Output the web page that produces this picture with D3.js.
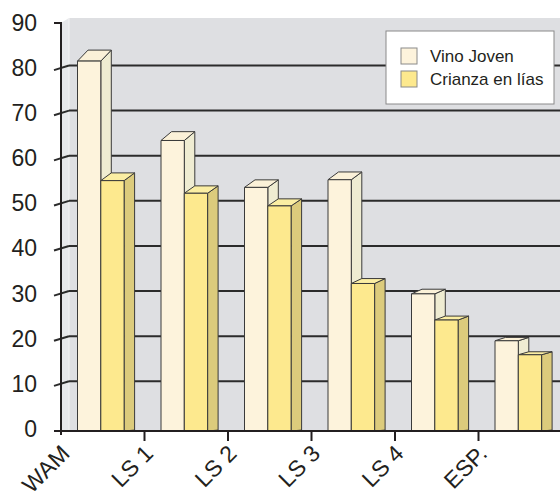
<!DOCTYPE html>
<html>
<head>
<meta charset="utf-8">
<script src="https://cdn.jsdelivr.net/npm/d3@7"></script>
<style>
body { margin: 0; background: #fff; }
svg { display: block; }
text { font-family: "Liberation Sans", Arial, sans-serif; fill: #231f20; }
</style>
</head>
<body>
<script>
var categories = ["WAM", "LS 1", "LS 2", "LS 3", "LS 4", "ESP."];
var seriesNames = ["Vino Joven", "Crianza en lías"];
var vinoJoven = [82, 64.4, 54, 55.7, 30.4, 20];
var crianza = [55.5, 52.7, 49.9, 32.7, 24.6, 16.9];
var yTicks = [0, 10, 20, 30, 40, 50, 60, 70, 80, 90];

var width = 560, height = 500;
var axisX = 61, wallX = 69, base = 431;
var depthX = 10.5;

var svg = d3.select("body").append("svg")
    .attr("width", width)
    .attr("height", height);

// front plane (labels, bars) and back wall (gridlines)
var y = d3.scaleLinear().domain([0, 90]).range([base, 25]);
var yBack = d3.scaleLinear().domain([0, 90]).range([base - 4.6, 20.4]);

var x = d3.scaleBand().domain(categories).range([axisX, axisX + 6 * 83.5]);
var xSeries = d3.scaleBand().domain(seriesNames).range([0, 46.6]);

var colors = {
    "Vino Joven": { front: "#fdf3dc", side: "#efecd2", top: "#fbf1d8" },
    "Crianza en lías": { front: "#fde98e", side: "#dccb7c", top: "#fbeea3" }
};

// a bit of perspective on the top faces
function topDy(yy) {
    return -(465 - yy) * 0.0272;
}

// walls
svg.append("polygon")
    .attr("points", [[axisX, 23], [wallX, 18], [wallX, base], [axisX, base]].join(" "))
    .attr("fill", "#e7e8eb");
svg.append("rect")
    .attr("x", wallX).attr("y", 18)
    .attr("width", width - wallX).attr("height", base - 18)
    .attr("fill", "#dedfe2");
svg.append("line")
    .attr("x1", wallX).attr("x2", wallX).attr("y1", 18).attr("y2", base)
    .attr("stroke", "#f3f3f4").attr("stroke-width", 1);

// gridlines + slanted ticks
var grid = yTicks.filter(function (d) { return d > 0 && d < 90; });
svg.selectAll("line.grid")
    .data(grid)
    .enter().append("line")
    .attr("class", "grid")
    .attr("x1", wallX).attr("x2", width)
    .attr("y1", function (d) { return yBack(d); })
    .attr("y2", function (d) { return yBack(d); })
    .attr("stroke", "#2b2b2b").attr("stroke-width", 2);
svg.selectAll("line.ytick")
    .data(grid)
    .enter().append("line")
    .attr("class", "ytick")
    .attr("x1", 54).attr("x2", wallX)
    .attr("y1", function (d) { return y(d); })
    .attr("y2", function (d) { return yBack(d); })
    .attr("stroke", "#2b2b2b").attr("stroke-width", 2);

// bars
var bars = [];
categories.forEach(function (c, i) {
    bars.push({ cat: c, s: "Vino Joven", v: vinoJoven[i] });
    bars.push({ cat: c, s: "Crianza en lías", v: crianza[i] });
});

var barG = svg.selectAll("g.bar")
    .data(bars)
    .enter().append("g")
    .attr("class", "bar")
    .attr("stroke", "#3a3a3a")
    .attr("stroke-width", 1)
    .attr("stroke-linejoin", "round");

barG.each(function (d) {
    var g = d3.select(this);
    var xl = x(d.cat) + 16.5 + xSeries(d.s);
    var xr = xl + xSeries.bandwidth();
    var yt = y(d.v);
    var dt = topDy(yt), db = topDy(base);
    g.append("polygon")
        .attr("points", [[xr, yt], [xr + depthX, yt + dt], [xr + depthX, base + db], [xr, base]].join(" "))
        .attr("fill", colors[d.s].side);
    g.append("polygon")
        .attr("points", [[xl, yt], [xl + depthX, yt + dt], [xr + depthX, yt + dt], [xr, yt]].join(" "))
        .attr("fill", colors[d.s].top);
    g.append("rect")
        .attr("x", xl).attr("y", yt)
        .attr("width", xr - xl).attr("height", base - yt)
        .attr("fill", colors[d.s].front);
});

// axes
svg.append("line")
    .attr("x1", 54).attr("x2", width).attr("y1", base).attr("y2", base)
    .attr("stroke", "#231f20").attr("stroke-width", 2);
svg.append("path")
    .attr("d", "M54,23H" + axisX + "V435")
    .attr("fill", "none")
    .attr("stroke", "#231f20").attr("stroke-width", 2);

svg.selectAll("line.xtick")
    .data(categories.slice(1))
    .enter().append("line")
    .attr("class", "xtick")
    .attr("x1", function (d) { return x(d); })
    .attr("x2", function (d) { return x(d); })
    .attr("y1", base).attr("y2", 441)
    .attr("stroke", "#231f20").attr("stroke-width", 2);

var yAxis = svg.append("g")
    .attr("transform", "translate(37,-2)")
    .call(d3.axisLeft(y).tickValues(yTicks).tickSize(0).tickPadding(0));
yAxis.select(".domain").remove();
yAxis.selectAll("text")
    .attr("fill", "#231f20")
    .style("font-size", "23px")
    .style("font-family", "'Liberation Sans', Arial, sans-serif");

svg.selectAll("text.cat")
    .data(categories)
    .enter().append("text")
    .attr("class", "cat")
    .attr("text-anchor", "end")
    .attr("transform", function (d) {
        return "translate(" + (x(d) + 10) + ",455) rotate(-45)";
    })
    .style("font-size", "23px")
    .text(function (d) { return d; });

// legend
var legend = svg.append("g").attr("transform", "translate(386,31)");
legend.append("rect")
    .attr("width", 168).attr("height", 73)
    .attr("fill", "#fff").attr("stroke", "#8a8a8a").attr("stroke-width", 1);
var item = legend.selectAll("g.item")
    .data(seriesNames)
    .enter().append("g")
    .attr("class", "item")
    .attr("transform", function (d, i) { return "translate(15," + (17 + i * 23) + ")"; });
item.append("rect")
    .attr("width", 16).attr("height", 16)
    .attr("fill", function (d) { return colors[d].front; })
    .attr("stroke", "#8a8a8a").attr("stroke-width", 1);
item.append("text")
    .attr("x", 29).attr("y", 14)
    .style("font-size", "17px")
    .text(function (d) { return d; });
</script>
</body>
</html>
